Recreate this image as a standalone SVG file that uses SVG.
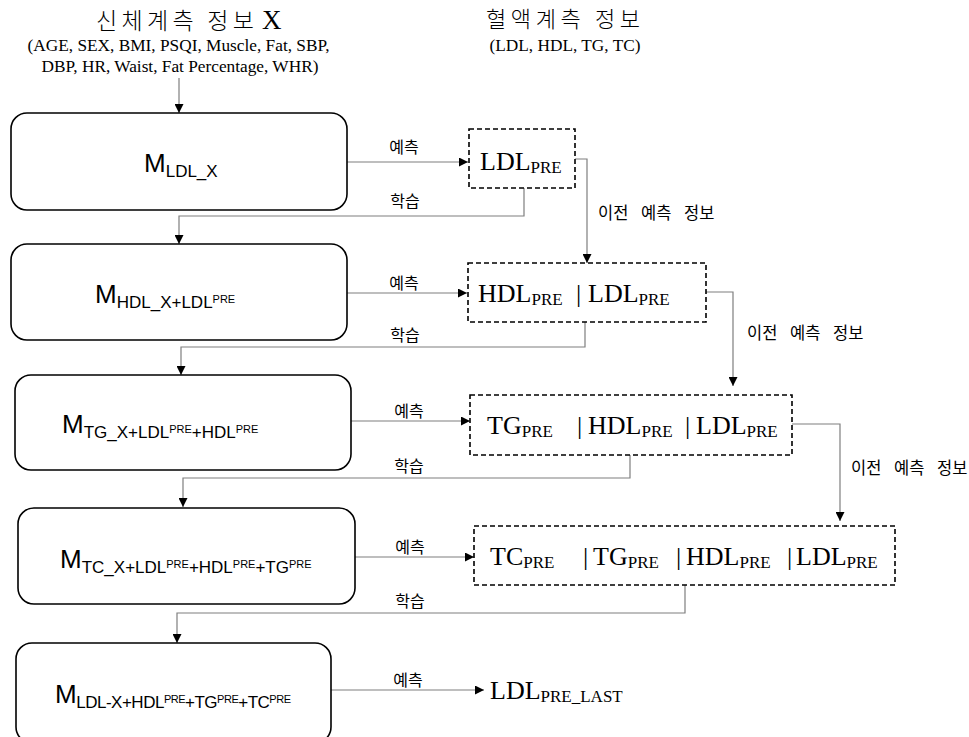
<svg xmlns="http://www.w3.org/2000/svg" width="969" height="737" viewBox="0 0 969 737">
<style>
.bg{fill:#fff}
.model{fill:#fff;stroke:#000;stroke-width:1.6}
.out{fill:#fff;stroke:#000;stroke-width:1.6;stroke-dasharray:5 3}
.conn{fill:none;stroke:#7f7f7f;stroke-width:1.2}
.ko{font-family:"Noto Sans CJK KR","Noto Sans",sans-serif;fill:#000}
.tm{font-family:"Liberation Serif","Times New Roman",serif;fill:#000}
.ms{font-family:"Liberation Sans","Noto Sans",sans-serif;fill:#000}
.lbl{font-size:16px}
.prev{font-size:16.5px;word-spacing:9px}
.res{font-size:26px}
.pre{font-size:17px}
</style>
<defs>
<marker id="ah" viewBox="0 0 10 10" refX="10" refY="5" markerWidth="9" markerHeight="9" markerUnits="userSpaceOnUse" orient="auto">
<path d="M0,0 L10,5 L0,10 z" fill="#000"/>
</marker>
</defs>
<rect class="bg" x="0" y="0" width="969" height="737"/>

<g id="header-body">
<text class="ko" x="96" y="29" font-size="23" font-weight="300" textLength="158" lengthAdjust="spacing">신체계측 정보</text>
<text class="tm" x="262" y="29" font-size="27">X</text>
<text class="tm" x="178.5" y="51" font-size="17.3" text-anchor="middle">(AGE, SEX, BMI, PSQI, Muscle, Fat, SBP,</text>
<text class="tm" x="180" y="72" font-size="17.3" text-anchor="middle">DBP, HR, Waist, Fat Percentage, WHR)</text>
</g>
<g id="header-blood">
<text class="ko" x="486" y="27" font-size="22" font-weight="300" textLength="154" lengthAdjust="spacing">혈액계측 정보</text>
<text class="tm" x="565" y="51" font-size="17.3" text-anchor="middle">(LDL, HDL, TG, TC)</text>
</g>

<g id="connectors">
<line class="conn" x1="179" y1="78" x2="179" y2="113" marker-end="url(#ah)"/>
<line class="conn" x1="347" y1="162" x2="468" y2="162" marker-end="url(#ah)"/>
<polyline class="conn" points="524,188 524,216 179,216 179,244" marker-end="url(#ah)"/>
<polyline class="conn" points="575,159 587,159 587,263" marker-end="url(#ah)"/>
<line class="conn" x1="347" y1="293" x2="467" y2="293" marker-end="url(#ah)"/>
<polyline class="conn" points="585,322 585,347 181,347 181,375" marker-end="url(#ah)"/>
<polyline class="conn" points="706,292 733,292 733,386" marker-end="url(#ah)"/>
<line class="conn" x1="350" y1="421" x2="470" y2="421" marker-end="url(#ah)"/>
<polyline class="conn" points="630,455 630,478 183,478 183,507" marker-end="url(#ah)"/>
<polyline class="conn" points="792,424 840,424 840,521" marker-end="url(#ah)"/>
<line class="conn" x1="355" y1="557" x2="474" y2="557" marker-end="url(#ah)"/>
<polyline class="conn" points="685,585 685,613 177,613 177,643" marker-end="url(#ah)"/>
<line class="conn" x1="330" y1="690" x2="484" y2="690" marker-end="url(#ah)"/>

<text class="ko lbl" x="404" y="153" text-anchor="middle">예측</text>
<text class="ko lbl" x="405" y="207" text-anchor="middle">학습</text>
<text class="ko lbl" x="404" y="289" text-anchor="middle">예측</text>
<text class="ko lbl" x="405" y="341" text-anchor="middle">학습</text>
<text class="ko lbl" x="409" y="417" text-anchor="middle">예측</text>
<text class="ko lbl" x="409" y="472" text-anchor="middle">학습</text>
<text class="ko lbl" x="410" y="553" text-anchor="middle">예측</text>
<text class="ko lbl" x="410" y="607" text-anchor="middle">학습</text>
<text class="ko lbl" x="408" y="686" text-anchor="middle">예측</text>
<text class="ko prev" x="598" y="219">이전 예측 정보</text>
<text class="ko prev" x="747" y="339">이전 예측 정보</text>
<text class="ko prev" x="851" y="474">이전 예측 정보</text>
</g>

<g id="m1">
<rect class="model" x="11" y="113" width="336" height="97" rx="16"/>
<text class="ms" x="144" y="172" font-size="26">M<tspan font-size="17" dy="5">LDL_X</tspan></text>
</g>
<g id="o1">
<rect class="out" x="469" y="129" width="106" height="59"/>
<text class="tm res" x="480" y="170">LDL<tspan class="pre" dy="3">PRE</tspan></text>
</g>

<g id="m2">
<rect class="model" x="11" y="244" width="336" height="96" rx="16"/>
<text class="ms" x="95" y="303" font-size="26">M<tspan font-size="17" dy="5">HDL_X+LDL</tspan><tspan font-size="11" dy="-5">PRE</tspan></text>
</g>
<g id="o2">
<rect class="out" x="468" y="263" width="238" height="59"/>
<text class="tm res" x="478" y="302">HDL<tspan class="pre" dy="3">PRE</tspan><tspan x="576" dy="-3">|</tspan><tspan x="588">LDL</tspan><tspan class="pre" dy="3">PRE</tspan></text>
</g>

<g id="m3">
<rect class="model" x="15" y="375" width="336" height="95" rx="16"/>
<text class="ms" x="62" y="433" font-size="26">M<tspan font-size="17" dy="5">TG_X+LDL</tspan><tspan font-size="11" dy="-5">PRE</tspan><tspan font-size="17" dy="5">+HDL</tspan><tspan font-size="11" dy="-5">PRE</tspan></text>
</g>
<g id="o3">
<rect class="out" x="470" y="395" width="322" height="60"/>
<text class="tm res" x="487" y="434">TG<tspan class="pre" dy="3">PRE</tspan><tspan x="577" dy="-3">|</tspan><tspan x="588">HDL</tspan><tspan class="pre" dy="3">PRE</tspan><tspan x="685" dy="-3">|</tspan><tspan x="696">LDL</tspan><tspan class="pre" dy="3">PRE</tspan></text>
</g>

<g id="m4">
<rect class="model" x="18" y="508" width="337" height="96" rx="16"/>
<text class="ms" x="60" y="568" font-size="26">M<tspan font-size="17" dy="5">TC_X+LDL</tspan><tspan font-size="11" dy="-5">PRE</tspan><tspan font-size="17" dy="5">+HDL</tspan><tspan font-size="11" dy="-5">PRE</tspan><tspan font-size="17" dy="5">+TG</tspan><tspan font-size="11" dy="-5">PRE</tspan></text>
</g>
<g id="o4">
<rect class="out" x="474" y="526" width="421" height="59"/>
<text class="tm res" x="490" y="565">TC<tspan class="pre" dy="3">PRE</tspan><tspan x="583" dy="-3">|</tspan><tspan x="593">TG</tspan><tspan class="pre" dy="3">PRE</tspan><tspan x="676" dy="-3">|</tspan><tspan x="686">HDL</tspan><tspan class="pre" dy="3">PRE</tspan><tspan x="787" dy="-3">|</tspan><tspan x="796">LDL</tspan><tspan class="pre" dy="3">PRE</tspan></text>
</g>

<g id="m5">
<rect class="model" x="16" y="643" width="315" height="100" rx="16"/>
<text class="ms" x="55" y="703" font-size="26" textLength="236" lengthAdjust="spacing">M<tspan font-size="17" dy="5">LDL-X+HDL</tspan><tspan font-size="11" dy="-5">PRE</tspan><tspan font-size="17" dy="5">+TG</tspan><tspan font-size="11" dy="-5">PRE</tspan><tspan font-size="17" dy="5">+TC</tspan><tspan font-size="11" dy="-5">PRE</tspan></text>
</g>
<g id="o5">
<text class="tm res" x="490" y="699">LDL<tspan class="pre" dy="3">PRE_LAST</tspan></text>
</g>
</svg>
